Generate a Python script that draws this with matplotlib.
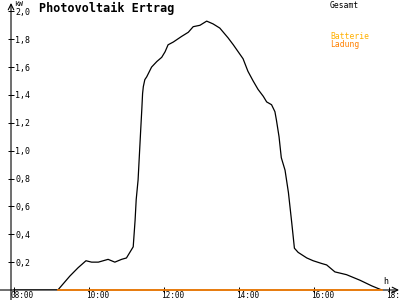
import matplotlib
matplotlib.use("Agg")
import matplotlib.pyplot as plt
import matplotlib.transforms as mtransforms

# Tagesverlauf PV-Leistung (Stunden, kW)
hours = [8.0, 9.17, 9.49, 9.71, 9.92, 10.07, 10.25, 10.51, 10.69, 10.87, 11.00,
         11.18, 11.23, 11.26, 11.31, 11.38, 11.41, 11.43, 11.45, 11.49, 11.54,
         11.67, 11.81, 11.94, 12.03, 12.11, 12.25, 12.47, 12.65, 12.78, 12.96,
         13.14, 13.31, 13.49, 13.71, 13.85, 13.98, 14.11, 14.24, 14.38, 14.51,
         14.65, 14.74, 14.87, 14.96, 15.00, 15.07, 15.13, 15.23, 15.32, 15.41,
         15.48, 15.58, 15.81, 15.98, 16.21, 16.34, 16.56, 16.87, 17.23, 17.54,
         17.81]
gesamt = [0.0, 0.0, 0.10, 0.16, 0.21, 0.20, 0.20, 0.22, 0.20, 0.22, 0.23,
          0.31, 0.50, 0.65, 0.79, 1.15, 1.30, 1.41, 1.46, 1.51, 1.53,
          1.60, 1.64, 1.67, 1.71, 1.76, 1.78, 1.82, 1.85, 1.89, 1.90,
          1.93, 1.91, 1.88, 1.81, 1.76, 1.71, 1.66, 1.57, 1.50, 1.44,
          1.39, 1.35, 1.33, 1.28, 1.22, 1.10, 0.95, 0.86, 0.70, 0.48,
          0.30, 0.27, 0.23, 0.21, 0.19, 0.18, 0.13, 0.11, 0.07, 0.03,
          0.0]
ladung_hours = [9.17, 17.81]
ladung = [0.0, 0.0]

x_ticks = [8, 10, 12, 14, 16, 18]
x_labels = ["08:00", "10:00", "12:00", "14:00", "16:00", "18:00"]
y_ticks = [0.2, 0.4, 0.6, 0.8, 1.0, 1.2, 1.4, 1.6, 1.8, 2.0]
y_labels = ["0,2", "0,4", "0,6", "0,8", "1,0", "1,2", "1,4", "1,6", "1,8", "2,0"]

plt.rcParams['font.family'] = ['DejaVu Sans Mono']

fig = plt.figure(figsize=(4, 3), dpi=100)
fig.patch.set_facecolor('white')
ax = fig.add_axes([11 / 400, 10 / 300, 388 / 400, 287 / 300])
ax.set_xlim(7.92, 18.27)
ax.set_ylim(0, 2.06)

for s in ax.spines.values():
    s.set_visible(False)

# Achsen mit Pfeilen
ax.annotate('', xy=(0, 1.0), xytext=(0, -0.04), xycoords='axes fraction',
            arrowprops=dict(arrowstyle='->', lw=0.8, color='black',
                            shrinkA=0, shrinkB=0), annotation_clip=False)
ax.annotate('', xy=(1.0, 0), xytext=(-0.03, 0), xycoords='axes fraction',
            arrowprops=dict(arrowstyle='->', lw=0.8, color='black',
                            shrinkA=0, shrinkB=0), annotation_clip=False)

ax.plot(hours, gesamt, color='black', lw=0.9, zorder=3)
ax.plot(ladung_hours, ladung, color='#FF8000', lw=1.2, zorder=4, clip_on=False)

ax.set_xticks(x_ticks)
ax.set_xticklabels(x_labels, fontsize=5.6)
ax.set_yticks(y_ticks)
ax.set_yticklabels(y_labels, fontsize=6)
ax.tick_params(axis='both', direction='inout', length=5, width=0.7, color='black')
ax.tick_params(axis='y', pad=-5.5)
ax.tick_params(axis='x', pad=-1.5)

for lbl in ax.get_yticklabels():
    lbl.set_horizontalalignment('left')
off = mtransforms.ScaledTranslation(-3 / 100, 0, fig.dpi_scale_trans)
for lbl in ax.get_xticklabels():
    lbl.set_horizontalalignment('left')
    lbl.set_transform(lbl.get_transform() + off)

fig.text(39 / 400, 1 - 2 / 300, 'Photovoltaik Ertrag', fontsize=8.5,
         fontweight='bold', va='top', ha='left')
fig.text(14 / 400, 1 - 0.5 / 300, 'kW', fontsize=5.3, va='top', ha='left')
fig.text(330 / 400, 1 - 1 / 300, 'Gesamt', fontsize=5.8, va='top', ha='left')
fig.text(330 / 400, 1 - 32 / 300, 'Batterie', fontsize=5.8, va='top',
         ha='left', color='#FFB000')
fig.text(330 / 400, 1 - 40 / 300, 'Ladung', fontsize=5.8, va='top',
         ha='left', color='#FF8000')
fig.text(383 / 400, 1 - 277 / 300, 'h', fontsize=6, va='top', ha='left')

fig.savefig('out.png', dpi=100, facecolor='white')
